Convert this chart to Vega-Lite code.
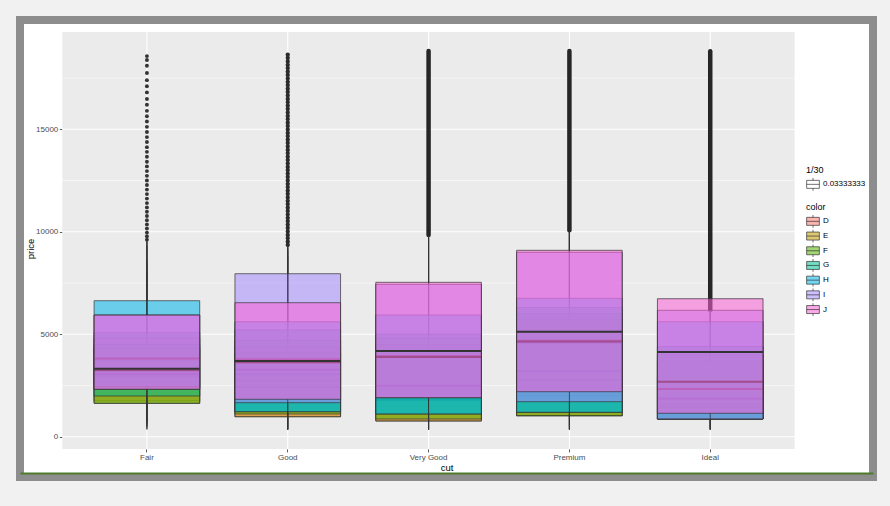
{
  "$schema": "https://vega.github.io/schema/vega-lite/v6.json",
  "width": 853,
  "height": 457,
  "autosize": {"type": "none"},
  "padding": {"left": 20, "top": 20, "right": 17, "bottom": 29},
  "background": "#f1f1f1",
  "config": {
    "view": {"fill": "white", "stroke": "#8d8d8d", "strokeWidth": 8},
    "font": "Liberation Sans",
    "axis": {
      "labelFont": "Liberation Sans", "titleFont": "Liberation Sans",
      "labelFontSize": 8, "labelColor": "#4d4d4d",
      "titleFontSize": 9.5, "titleFontWeight": "normal", "titleColor": "#000000",
      "tickColor": "#333333", "tickSize": 3, "tickWidth": 0.8,
      "domain": false, "grid": false, "labelPadding": 1.5
    },
    "legend": {
      "titleFont": "Liberation Sans", "labelFont": "Liberation Sans",
      "titleFontSize": 9, "titleFontWeight": "normal", "titleColor": "#000000",
      "labelFontSize": 8, "labelColor": "#000000",
      "padding": 0, "titlePadding": 3, "rowPadding": 1.7, "labelOffset": 3, "clipHeight": 12.7,
      "symbolType": "M-1,-0.63H1V0.63H-1Z M-1,0H1 M0,-0.63V-1.1 M0,0.63V1.1",
      "symbolSize": 161, "symbolStrokeWidth": 0.7, "symbolStrokeColor": "#333333"
    }
  },
  "datasets": {
    "ybreaks": [
      {"price": 0, "kind": "major"}, {"price": 5000, "kind": "major"},
      {"price": 10000, "kind": "major"}, {"price": 15000, "kind": "major"},
      {"price": 2500, "kind": "minor"}, {"price": 7500, "kind": "minor"},
      {"price": 12500, "kind": "minor"}, {"price": 17500, "kind": "minor"}
    ],
    "cuts": [{"cut": "Fair"}, {"cut": "Good"}, {"cut": "Very Good"}, {"cut": "Premium"}, {"cut": "Ideal"}],
    "boxes": [
      {"cut": "Fair", "color": "D", "lower": 536, "q1": 1750, "median": 3730, "q3": 4800, "upper": 9300},
      {"cut": "Fair", "color": "E", "lower": 337, "q1": 1630, "median": 2956, "q3": 4300, "upper": 8000},
      {"cut": "Fair", "color": "F", "lower": 496, "q1": 1630, "median": 3035, "q3": 4500, "upper": 8600},
      {"cut": "Fair", "color": "G", "lower": 369, "q1": 1986, "median": 3057, "q3": 5075, "upper": 9600},
      {"cut": "Fair", "color": "H", "lower": 659, "q1": 2440, "median": 3816, "q3": 6636, "upper": 9600},
      {"cut": "Fair", "color": "I", "lower": 735, "q1": 2313, "median": 3246, "q3": 5938, "upper": 9500},
      {"cut": "Fair", "color": "J", "lower": 416, "q1": 2313, "median": 3318, "q3": 5938, "upper": 9500},
      {"cut": "Good", "color": "D", "lower": 361, "q1": 976, "median": 2728, "q3": 4400, "upper": 9100},
      {"cut": "Good", "color": "E", "lower": 327, "q1": 976, "median": 2420, "q3": 4100, "upper": 8800},
      {"cut": "Good", "color": "F", "lower": 357, "q1": 1108, "median": 3050, "q3": 4700, "upper": 9200},
      {"cut": "Good", "color": "G", "lower": 394, "q1": 1220, "median": 3263, "q3": 5207, "upper": 9300},
      {"cut": "Good", "color": "H", "lower": 368, "q1": 1220, "median": 3777, "q3": 5611, "upper": 9300},
      {"cut": "Good", "color": "I", "lower": 351, "q1": 1659, "median": 3639, "q3": 7954, "upper": 9350},
      {"cut": "Good", "color": "J", "lower": 335, "q1": 1825, "median": 3694, "q3": 6539, "upper": 9350},
      {"cut": "Very Good", "color": "D", "lower": 357, "q1": 766, "median": 2310, "q3": 4500, "upper": 9800},
      {"cut": "Very Good", "color": "E", "lower": 352, "q1": 766, "median": 1800, "q3": 4200, "upper": 9700},
      {"cut": "Very Good", "color": "F", "lower": 357, "q1": 864, "median": 2471, "q3": 4800, "upper": 9800},
      {"cut": "Very Good", "color": "G", "lower": 354, "q1": 1108, "median": 2489, "q3": 5000, "upper": 9840},
      {"cut": "Very Good", "color": "H", "lower": 337, "q1": 1108, "median": 3938, "q3": 5938, "upper": 9840},
      {"cut": "Very Good", "color": "I", "lower": 336, "q1": 1903, "median": 3888, "q3": 7437, "upper": 9840},
      {"cut": "Very Good", "color": "J", "lower": 336, "q1": 1903, "median": 4182, "q3": 7534, "upper": 9840},
      {"cut": "Premium", "color": "D", "lower": 367, "q1": 1025, "median": 2009, "q3": 5200, "upper": 10080},
      {"cut": "Premium", "color": "E", "lower": 326, "q1": 1025, "median": 2767, "q3": 5700, "upper": 10080},
      {"cut": "Premium", "color": "F", "lower": 342, "q1": 1025, "median": 3200, "q3": 6000, "upper": 10080},
      {"cut": "Premium", "color": "G", "lower": 382, "q1": 1191, "median": 4587, "q3": 6300, "upper": 10080},
      {"cut": "Premium", "color": "H", "lower": 368, "q1": 1191, "median": 4685, "q3": 6753, "upper": 10080},
      {"cut": "Premium", "color": "I", "lower": 334, "q1": 1708, "median": 4640, "q3": 8998, "upper": 10080},
      {"cut": "Premium", "color": "J", "lower": 558, "q1": 2196, "median": 5124, "q3": 9096, "upper": 10080},
      {"cut": "Ideal", "color": "D", "lower": 367, "q1": 864, "median": 1576, "q3": 3700, "upper": 6170},
      {"cut": "Ideal", "color": "E", "lower": 326, "q1": 864, "median": 1437, "q3": 2900, "upper": 6170},
      {"cut": "Ideal", "color": "F", "lower": 408, "q1": 864, "median": 1874, "q3": 4000, "upper": 6170},
      {"cut": "Ideal", "color": "G", "lower": 361, "q1": 864, "median": 1858, "q3": 4400, "upper": 6170},
      {"cut": "Ideal", "color": "H", "lower": 357, "q1": 864, "median": 2328, "q3": 5612, "upper": 6170},
      {"cut": "Ideal", "color": "I", "lower": 348, "q1": 864, "median": 2684, "q3": 6168, "upper": 6170},
      {"cut": "Ideal", "color": "J", "lower": 340, "q1": 1142, "median": 4133, "q3": 6734, "upper": 6750}
    ],
    "strips": [
      {"cut": "Good", "lo": 9350, "hi": 18788},
      {"cut": "Very Good", "lo": 9840, "hi": 18818},
      {"cut": "Premium", "lo": 10080, "hi": 18823},
      {"cut": "Ideal", "lo": 6170, "hi": 18806}
    ],
    "fairOut": [
      {"cut": "Fair", "price": 18574}, {"cut": "Fair", "price": 18380}, {"cut": "Fair", "price": 18100},
      {"cut": "Fair", "price": 17750}, {"cut": "Fair", "price": 17400}, {"cut": "Fair", "price": 17100},
      {"cut": "Fair", "price": 16800}, {"cut": "Fair", "price": 16480}, {"cut": "Fair", "price": 16200},
      {"cut": "Fair", "price": 15900}, {"cut": "Fair", "price": 15640}, {"cut": "Fair", "price": 15380},
      {"cut": "Fair", "price": 15120}, {"cut": "Fair", "price": 14870}, {"cut": "Fair", "price": 14620},
      {"cut": "Fair", "price": 14380}, {"cut": "Fair", "price": 14130}, {"cut": "Fair", "price": 13900},
      {"cut": "Fair", "price": 13660}, {"cut": "Fair", "price": 13420}, {"cut": "Fair", "price": 13190},
      {"cut": "Fair", "price": 12960}, {"cut": "Fair", "price": 12730}, {"cut": "Fair", "price": 12500},
      {"cut": "Fair", "price": 12280}, {"cut": "Fair", "price": 12060}, {"cut": "Fair", "price": 11840},
      {"cut": "Fair", "price": 11620}, {"cut": "Fair", "price": 11400}, {"cut": "Fair", "price": 11190},
      {"cut": "Fair", "price": 10980}, {"cut": "Fair", "price": 10770}, {"cut": "Fair", "price": 10560},
      {"cut": "Fair", "price": 10360}, {"cut": "Fair", "price": 10160}, {"cut": "Fair", "price": 9960},
      {"cut": "Fair", "price": 9780}, {"cut": "Fair", "price": 9610}
    ]
  },
  "resolve": {"scale": {"x": "independent"}, "axis": {"x": "independent"}},
  "layer": [
    {
      "layer": [
        {
          "data": {"values": [{}]},
          "mark": {"type": "rect", "color": "#ebebeb"},
          "encoding": {
            "x": {"datum": 0.4, "type": "quantitative",
                  "scale": {"domain": [0.0996, 6.1566], "nice": false, "zero": false},
                  "axis": {"orient": "bottom", "offset": -4, "domain": true, "domainColor": "#4f7a2a", "domainWidth": 2, "ticks": false, "labels": false, "title": null, "grid": false}},
            "x2": {"datum": 5.6},
            "y": {"datum": -598.85, "type": "quantitative",
                  "scale": {"domain": [-1966, 20334], "nice": false, "zero": false},
                  "axis": {"orient": "left", "offset": -42.3, "values": [0, 5000, 10000, 15000], "format": "d", "title": "price", "titlePadding": 0.5}},
            "y2": {"datum": 19747.85}
          }
        },
        {
          "data": {"name": "ybreaks"},
          "transform": [{"filter": "datum.kind == 'minor'"}],
          "mark": {"type": "rule", "color": "#ffffff", "strokeWidth": 0.5},
          "encoding": {
            "x": {"datum": 0.4, "type": "quantitative"},
            "x2": {"datum": 5.6},
            "y": {"field": "price", "type": "quantitative"}
          }
        },
        {
          "data": {"name": "ybreaks"},
          "transform": [{"filter": "datum.kind == 'major'"}],
          "mark": {"type": "rule", "color": "#ffffff", "strokeWidth": 1.07},
          "encoding": {
            "x": {"datum": 0.4, "type": "quantitative"},
            "x2": {"datum": 5.6},
            "y": {"field": "price", "type": "quantitative"}
          }
        }
      ]
    },
    {
      "encoding": {
        "x": {"field": "cut", "type": "nominal",
              "scale": {"domain": ["Fair", "Good", "Very Good", "Premium", "Ideal"], "paddingInner": 0, "paddingOuter": 0.5285, "align": 0.3796},
              "axis": {"orient": "bottom", "offset": -28.1, "title": "cut", "titlePadding": 1, "labelAngle": 0}}
      },
      "layer": [
        {
          "data": {"name": "cuts"},
          "mark": {"type": "rule", "color": "#ffffff", "strokeWidth": 1.07},
          "encoding": {"y": {"datum": -598.85, "type": "quantitative"}, "y2": {"datum": 19747.85}}
        },
        {
          "data": {"name": "strips"},
          "transform": [{"filter": "datum.cut != 'Good'"}],
          "mark": {"type": "rule", "color": "#262626", "strokeWidth": 4.5, "strokeCap": "round"},
          "encoding": {"y": {"field": "lo", "type": "quantitative"}, "y2": {"field": "hi"}}
        },
        {
          "data": {"name": "strips"},
          "transform": [{"filter": "datum.cut == 'Good'"}],
          "mark": {"type": "rule", "color": "#2b2b2b", "strokeWidth": 4.3, "strokeCap": "round", "strokeDash": [0.1, 3.3]},
          "encoding": {"y": {"field": "lo", "type": "quantitative"}, "y2": {"field": "hi"}}
        },
        {
          "data": {"name": "fairOut"},
          "mark": {"type": "circle", "color": "#333333", "size": 15, "opacity": 1},
          "encoding": {"y": {"field": "price", "type": "quantitative"}}
        },
        {
          "data": {"name": "boxes"},
          "transform": [{"calculate": "1/30", "as": "alpha"}],
          "layer": [
            {"transform": [{"filter": "datum.color == 'D'"}], "layer": [
              {"mark": {"type": "rule", "color": "#333333", "strokeWidth": 0.8}, "encoding": {"y": {"field": "lower", "type": "quantitative"}, "y2": {"field": "q1"}}},
              {"mark": {"type": "rule", "color": "#333333", "strokeWidth": 0.8}, "encoding": {"y": {"field": "q3", "type": "quantitative"}, "y2": {"field": "upper"}}},
              {"mark": {"type": "bar", "width": {"band": 0.75}, "stroke": "#333333", "strokeWidth": 0.7, "fillOpacity": 0.55}, "encoding": {
                "y": {"field": "q1", "type": "quantitative"}, "y2": {"field": "q3"},
                "fill": {"field": "color", "type": "nominal", "scale": {"domain": ["D", "E", "F", "G", "H", "I", "J"], "range": ["#F8766D", "#C49A00", "#53B400", "#00C094", "#00B6EB", "#A58AFF", "#FB61D7"]},
                         "legend": {"title": "color", "orient": "none", "legendX": 786, "legendY": 183, "encode": {"symbols": {"update": {"fillOpacity": {"value": 0.55}, "stroke": {"value": "#333333"}, "strokeWidth": {"value": 0.7}}}}}},
                "opacity": {"field": "alpha", "type": "quantitative", "scale": {"type": "linear", "domain": [0, 1], "range": [1, 1], "zero": false, "nice": false},
                            "legend": {"title": "1/30", "type": "symbol", "values": [0.03333333], "format": ".8f", "orient": "none", "legendX": 786, "legendY": 146,
                                       "symbolFillColor": "#ffffff", "symbolStrokeColor": "#333333", "symbolOpacity": 1}}
              }},
              {"mark": {"type": "tick", "color": "#333333", "opacity": 1, "thickness": 2, "size": 105.6}, "encoding": {"y": {"field": "median", "type": "quantitative"}}}
            ]},
            {"transform": [{"filter": "datum.color == 'E'"}], "layer": [
              {"mark": {"type": "rule", "color": "#333333", "strokeWidth": 0.8}, "encoding": {"y": {"field": "lower", "type": "quantitative"}, "y2": {"field": "q1"}}},
              {"mark": {"type": "rule", "color": "#333333", "strokeWidth": 0.8}, "encoding": {"y": {"field": "q3", "type": "quantitative"}, "y2": {"field": "upper"}}},
              {"mark": {"type": "bar", "width": {"band": 0.75}, "stroke": "#333333", "strokeWidth": 0.7, "fillOpacity": 0.55}, "encoding": {
                "y": {"field": "q1", "type": "quantitative"}, "y2": {"field": "q3"},
                "fill": {"field": "color", "type": "nominal"}
              }},
              {"mark": {"type": "tick", "color": "#333333", "opacity": 1, "thickness": 2, "size": 105.6}, "encoding": {"y": {"field": "median", "type": "quantitative"}}}
            ]},
            {"transform": [{"filter": "datum.color == 'F'"}], "layer": [
              {"mark": {"type": "rule", "color": "#333333", "strokeWidth": 0.8}, "encoding": {"y": {"field": "lower", "type": "quantitative"}, "y2": {"field": "q1"}}},
              {"mark": {"type": "rule", "color": "#333333", "strokeWidth": 0.8}, "encoding": {"y": {"field": "q3", "type": "quantitative"}, "y2": {"field": "upper"}}},
              {"mark": {"type": "bar", "width": {"band": 0.75}, "stroke": "#333333", "strokeWidth": 0.7, "fillOpacity": 0.55}, "encoding": {
                "y": {"field": "q1", "type": "quantitative"}, "y2": {"field": "q3"},
                "fill": {"field": "color", "type": "nominal"}
              }},
              {"mark": {"type": "tick", "color": "#333333", "opacity": 1, "thickness": 2, "size": 105.6}, "encoding": {"y": {"field": "median", "type": "quantitative"}}}
            ]},
            {"transform": [{"filter": "datum.color == 'G'"}], "layer": [
              {"mark": {"type": "rule", "color": "#333333", "strokeWidth": 0.8}, "encoding": {"y": {"field": "lower", "type": "quantitative"}, "y2": {"field": "q1"}}},
              {"mark": {"type": "rule", "color": "#333333", "strokeWidth": 0.8}, "encoding": {"y": {"field": "q3", "type": "quantitative"}, "y2": {"field": "upper"}}},
              {"mark": {"type": "bar", "width": {"band": 0.75}, "stroke": "#333333", "strokeWidth": 0.7, "fillOpacity": 0.55}, "encoding": {
                "y": {"field": "q1", "type": "quantitative"}, "y2": {"field": "q3"},
                "fill": {"field": "color", "type": "nominal"}
              }},
              {"mark": {"type": "tick", "color": "#333333", "opacity": 1, "thickness": 2, "size": 105.6}, "encoding": {"y": {"field": "median", "type": "quantitative"}}}
            ]},
            {"transform": [{"filter": "datum.color == 'H'"}], "layer": [
              {"mark": {"type": "rule", "color": "#333333", "strokeWidth": 0.8}, "encoding": {"y": {"field": "lower", "type": "quantitative"}, "y2": {"field": "q1"}}},
              {"mark": {"type": "rule", "color": "#333333", "strokeWidth": 0.8}, "encoding": {"y": {"field": "q3", "type": "quantitative"}, "y2": {"field": "upper"}}},
              {"mark": {"type": "bar", "width": {"band": 0.75}, "stroke": "#333333", "strokeWidth": 0.7, "fillOpacity": 0.55}, "encoding": {
                "y": {"field": "q1", "type": "quantitative"}, "y2": {"field": "q3"},
                "fill": {"field": "color", "type": "nominal"}
              }},
              {"mark": {"type": "tick", "color": "#333333", "opacity": 1, "thickness": 2, "size": 105.6}, "encoding": {"y": {"field": "median", "type": "quantitative"}}}
            ]},
            {"transform": [{"filter": "datum.color == 'I'"}], "layer": [
              {"mark": {"type": "rule", "color": "#333333", "strokeWidth": 0.8}, "encoding": {"y": {"field": "lower", "type": "quantitative"}, "y2": {"field": "q1"}}},
              {"mark": {"type": "rule", "color": "#333333", "strokeWidth": 0.8}, "encoding": {"y": {"field": "q3", "type": "quantitative"}, "y2": {"field": "upper"}}},
              {"mark": {"type": "bar", "width": {"band": 0.75}, "stroke": "#333333", "strokeWidth": 0.7, "fillOpacity": 0.55}, "encoding": {
                "y": {"field": "q1", "type": "quantitative"}, "y2": {"field": "q3"},
                "fill": {"field": "color", "type": "nominal"}
              }},
              {"mark": {"type": "tick", "color": "#333333", "opacity": 1, "thickness": 2, "size": 105.6}, "encoding": {"y": {"field": "median", "type": "quantitative"}}}
            ]},
            {"transform": [{"filter": "datum.color == 'J'"}], "layer": [
              {"mark": {"type": "rule", "color": "#333333", "strokeWidth": 0.8}, "encoding": {"y": {"field": "lower", "type": "quantitative"}, "y2": {"field": "q1"}}},
              {"mark": {"type": "rule", "color": "#333333", "strokeWidth": 0.8}, "encoding": {"y": {"field": "q3", "type": "quantitative"}, "y2": {"field": "upper"}}},
              {"mark": {"type": "bar", "width": {"band": 0.75}, "stroke": "#333333", "strokeWidth": 0.7, "fillOpacity": 0.55}, "encoding": {
                "y": {"field": "q1", "type": "quantitative"}, "y2": {"field": "q3"},
                "fill": {"field": "color", "type": "nominal"}
              }},
              {"mark": {"type": "tick", "color": "#333333", "opacity": 1, "thickness": 2, "size": 105.6}, "encoding": {"y": {"field": "median", "type": "quantitative"}}}
            ]}
          ]
        }
      ]
    }
  ]
}
